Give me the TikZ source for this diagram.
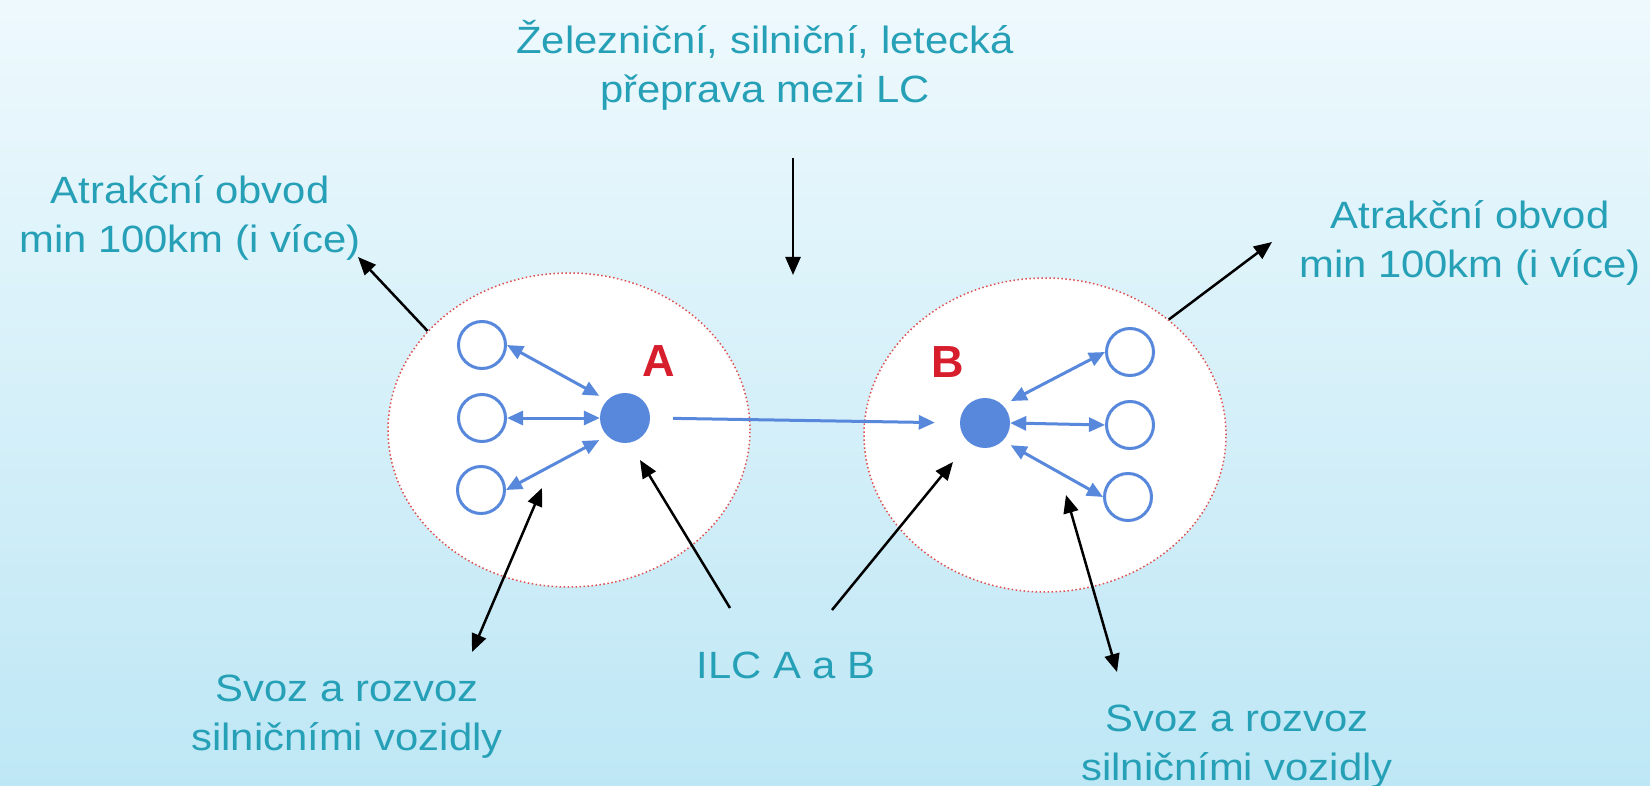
\documentclass[tikz,border=0pt]{standalone}
\usepackage{fontspec}
\setmainfont{Liberation Sans}[FakeStretch=1.1]
\newfontfamily\letterfont{Liberation Sans}
\usetikzlibrary{arrows.meta,shapes.geometric}
\definecolor{txt}{RGB}{38,160,182}
\definecolor{blu}{RGB}{88,136,220}
\definecolor{redd}{RGB}{222,80,80}
\definecolor{lab}{RGB}{215,30,45}
\definecolor{bgtop}{RGB}{238,249,253}
\definecolor{bgbot}{RGB}{190,231,245}
\begin{document}
\begin{tikzpicture}[x=1pt,y=-1pt,
  lbl/.style={text=txt, align=center, font=\fontsize{38}{49}\selectfont, inner sep=0pt, anchor=base},
  area/.style={ellipse, minimum width=362pt, minimum height=314pt, inner sep=0pt, draw=redd, line width=1.5pt, dash pattern=on 1.5pt off 2.5pt, fill=white},
  hub/.style={circle, fill=blu, minimum size=50pt, inner sep=0pt},
  stop/.style={circle, draw=blu, line width=3pt, minimum size=47pt, inner sep=0pt},
  letter/.style={text=lab, font=\letterfont\fontsize{45}{50}\selectfont\bfseries, inner sep=0pt},
  barrow/.style={draw=blu, line width=3pt, {Triangle[length=16pt,width=14pt]}-{Triangle[length=16pt,width=14pt]}},
  sarrow/.style={draw=blu, line width=3pt, -{Triangle[length=16pt,width=14pt]}},
  karrow/.style={draw=black, line width=2.5pt, -{Triangle[length=18pt,width=15pt]}},
  kdarrow/.style={draw=black, line width=2.5pt, {Triangle[length=18pt,width=15pt]}-{Triangle[length=18pt,width=15pt]}}
]
\useasboundingbox (0,0) rectangle (1650,786);
\shade[top color=bgtop, bottom color=bgbot] (0,0) rectangle (1650,786);

% attraction areas
\node[area] (EL) at (569,430) {};
\node[area] (ER) at (1045,435) {};

% hubs
\node[hub] (A) at (625,418) {};
\node[hub] (B) at (985,423) {};
\node[letter] (la) at (659,361) {A};
\node[letter] (lb) at (948,362) {B};

% local stops
\node[stop] (l1) at (482,345) {};
\node[stop] (l2) at (482,418) {};
\node[stop] (l3) at (481,490) {};
\node[stop] (r1) at (1130,352) {};
\node[stop] (r2) at (1130,425) {};
\node[stop] (r3) at (1128,497) {};

% blue connectors
\draw[barrow, shorten >=9pt] (l1.east) -- (A.135);
\draw[barrow] (l2.east) -- (A.west);
\draw[barrow, shorten >=9pt] (l3.east) -- (A.225);
\draw[barrow, shorten <=9pt] (B.45) -- (r1.west);
\draw[barrow] (B.east) -- (r2.west);
\draw[barrow, shorten <=9pt] (B.-45) -- (r3.west);
\draw[sarrow, shorten <=23pt, shorten >=25pt] (A.east) -- (B.west);

% labels (base = baseline of last line)
\node[lbl] (tt) at (765,103) {Železniční, silniční, letecká\\přeprava mezi LC};
\node[lbl] (lt) at (190,253) {Atrakční obvod\\min 100km (i více)};
\node[lbl] (rt) at (1470,278) {Atrakční obvod\\min 100km (i více)};
\node[lbl] (ls) at (347,750) {Svoz a rozvoz\\silničními vozidly};
\node[lbl] (rs) at (1237,780) {Svoz a rozvoz\\silničními vozidly};
\node[lbl] (ilc) at (786,678) {ILC A a B};

% free ends of black connectors
\coordinate (ttS) at (793,158);
\coordinate (ttE) at (793,275);
\coordinate (ltE) at (358,257);
\coordinate (rtE) at (1272,242);
\coordinate (lsA) at (542,488);
\coordinate (lsB) at (472,652);
\coordinate (rsA) at (1066,495);
\coordinate (rsB) at (1117,672);
\coordinate (ilcA) at (730,608);
\coordinate (ilcB) at (832,610);
\coordinate (ilcAe) at (640,460);
\coordinate (ilcBe) at (953,462);

% black connectors
\draw[karrow] (ttS) -- (ttE);
\draw[karrow] (EL.145) -- (ltE);
\draw[karrow] (ER.43) -- (rtE);
\draw[kdarrow] (lsA) -- (lsB);
\draw[kdarrow] (rsA) -- (rsB);
\draw[karrow] (ilcA) -- (ilcAe);
\draw[karrow] (ilcB) -- (ilcBe);
\end{tikzpicture}
\end{document}
